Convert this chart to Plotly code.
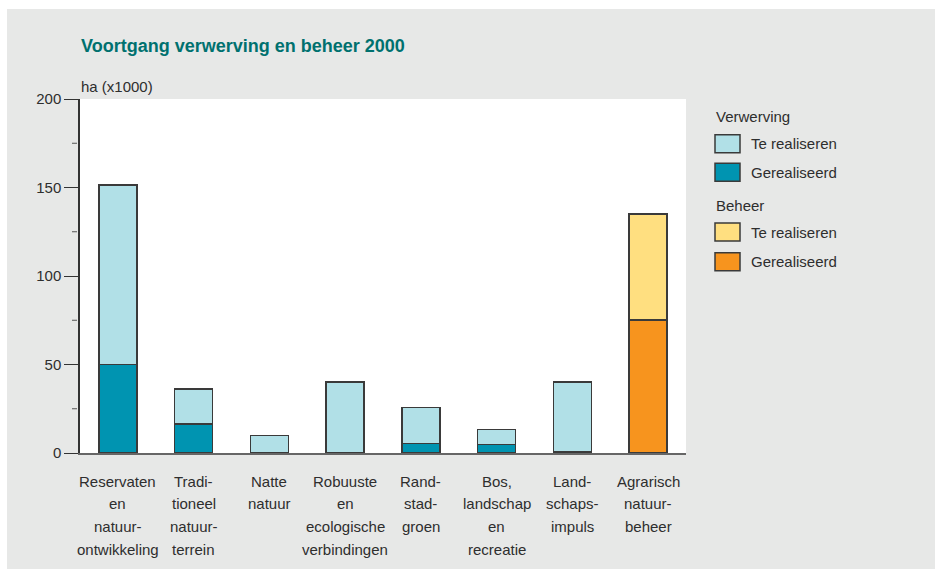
import plotly.graph_objects as go

# Category labels, one list of lines per category
category_lines = [
    ["Reservaten", "en", "natuur-", "ontwikkeling"],
    ["Tradi-", "tioneel", "natuur-", "terrein"],
    ["Natte", "natuur"],
    ["Robuuste", "en", "ecologische", "verbindingen"],
    ["Rand-", "stad-", "groen"],
    ["Bos,", "landschap", "en", "recreatie"],
    ["Land-", "schaps-", "impuls"],
    ["Agrarisch", "natuur-", "beheer"],
]
categories = [" ".join(lines) for lines in category_lines]

# ha (x1000)
verwerving_gerealiseerd = [50, 16.5, None, None, 5.3, 4.7, 0.4, None]
verwerving_te_realiseren = [101.5, 19.5, 10, 40, 20.3, 8.5, 39.6, None]
beheer_gerealiseerd = [None, None, None, None, None, None, None, 75]
beheer_te_realiseren = [None, None, None, None, None, None, None, 60]

y_ticks = [0, 50, 100, 150, 200]
y_minor = [25, 75, 125, 175]

C_LIGHT_TEAL = "#B1E0E7"
C_DARK_TEAL = "#0094B1"
C_YELLOW = "#FFDF80"
C_ORANGE = "#F7941E"
OUTLINE = "#3a3a3a"
TEXT = "#2e2e2e"
PANEL = "#E7E8E7"
FONT = "Liberation Sans, Arial, sans-serif"

fig = go.Figure()
for vals, col in [
    (verwerving_gerealiseerd, C_DARK_TEAL),
    (verwerving_te_realiseren, C_LIGHT_TEAL),
    (beheer_gerealiseerd, C_ORANGE),
    (beheer_te_realiseren, C_YELLOW),
]:
    fig.add_trace(go.Bar(
        x=categories, y=vals,
        marker=dict(color=col, line=dict(color=OUTLINE, width=1.6)),
        showlegend=False, hoverinfo="skip",
    ))

annotations = []
# Category labels below the axis
for cat, lines in zip(categories, category_lines):
    for i, line in enumerate(lines):
        annotations.append(dict(
            x=cat, xref="x", y=0, yref="y", text=line, showarrow=False,
            xanchor="center", yanchor="middle", yshift=-28 - i * 22.7,
            font=dict(size=15, color=TEXT, family=FONT),
        ))

# Title and axis unit
annotations.append(dict(
    x=0, xref="paper", y=1, yref="paper", text="<b>Voortgang verwerving en beheer 2000</b>",
    showarrow=False, xanchor="left", yanchor="middle", yshift=53, xshift=-1,
    font=dict(size=18, color="#00716F", family=FONT),
))
annotations.append(dict(
    x=0, xref="paper", y=1, yref="paper", text="ha (x1000)",
    showarrow=False, xanchor="left", yanchor="middle", yshift=13, xshift=-1,
    font=dict(size=15, color=TEXT, family=FONT),
))

shapes = []
# Custom legend
legend_rows = [
    ("header", "Verwerving", None, 116.7),
    ("item", "Te realiseren", C_LIGHT_TEAL, 143.7),
    ("item", "Gerealiseerd", C_DARK_TEAL, 172.3),
    ("header", "Beheer", None, 205),
    ("item", "Te realiseren", C_YELLOW, 232),
    ("item", "Gerealiseerd", C_ORANGE, 261.7),
]
plot_top = 99
for kind, label, col, yc in legend_rows:
    dy = plot_top - yc
    if kind == "header":
        annotations.append(dict(
            x=1, xref="paper", y=1, yref="paper", text=label, showarrow=False,
            xanchor="left", yanchor="middle", xshift=28, yshift=dy,
            font=dict(size=15, color=TEXT, family=FONT),
        ))
    else:
        shapes.append(dict(
            type="rect", xref="paper", yref="paper", xsizemode="pixel", ysizemode="pixel",
            xanchor=1, yanchor=1, x0=29, x1=54, y0=dy - 9, y1=dy + 9,
            fillcolor=col, line=dict(color=OUTLINE, width=1.5),
        ))
        annotations.append(dict(
            x=1, xref="paper", y=1, yref="paper", text=label, showarrow=False,
            xanchor="left", yanchor="middle", xshift=63, yshift=dy,
            font=dict(size=15, color=TEXT, family=FONT),
        ))

# Minor y ticks, set slightly off the axis line
for v in y_minor:
    shapes.append(dict(
        type="line", xref="paper", yref="y", xsizemode="pixel", xanchor=0,
        x0=-8, x1=-3, y0=v, y1=v, line=dict(color="#555555", width=1),
    ))

# White outer border strips
shapes.append(dict(type="rect", xref="paper", yref="paper", xsizemode="pixel", ysizemode="pixel",
                   xanchor=0, yanchor=1, x0=-80, x1=855, y0=90, y1=100,
                   fillcolor="white", line=dict(width=0)))
shapes.append(dict(type="rect", xref="paper", yref="paper", xsizemode="pixel", ysizemode="pixel",
                   xanchor=0, yanchor=1, x0=-80, x1=-73, y0=100, y1=-480,
                   fillcolor="white", line=dict(width=0)))

fig.update_layout(
    width=935, height=569,
    margin=dict(l=80, r=249, t=99, b=116),
    paper_bgcolor=PANEL, plot_bgcolor="white",
    barmode="stack", bargap=0.5,
    font=dict(family=FONT, size=15, color=TEXT),
    xaxis=dict(
        type="category", range=[-0.5, 7.5], showticklabels=False, ticks="",
        showgrid=False, zeroline=False, showline=True, linecolor="#666666", linewidth=1.5,
        fixedrange=True,
    ),
    yaxis=dict(
        range=[0, 200], tickvals=y_ticks, ticks="outside", ticklen=14, tickwidth=1.3,
        tickcolor="#333333", showgrid=False, zeroline=False, showline=True,
        linecolor="#333333", linewidth=1.5, tickfont=dict(size=15, color=TEXT, family=FONT),
        fixedrange=True,
    ),
    annotations=annotations,
    shapes=shapes,
    showlegend=False,
)

fig.write_html("out.html")
